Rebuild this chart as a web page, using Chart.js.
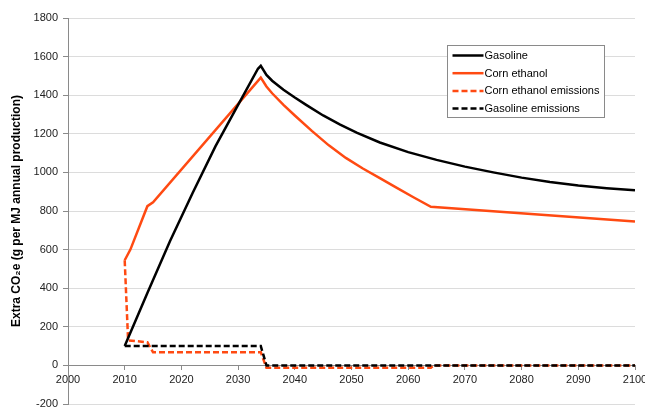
<!DOCTYPE html>
<html>
<head>
<meta charset="utf-8">
<script src="https://cdn.jsdelivr.net/npm/chart.js@4"></script>
<style>
  body { margin: 0; background: #fff; }
  #wrap { width: 645px; height: 408px; position: relative; }
</style>
</head>
<body>
<div id="wrap"><canvas id="co2Chart"></canvas></div>
<script>
// values
const gasolineYears = [2010, 2014, 2018, 2022, 2026, 2030, 2033.5, 2034, 2035, 2036, 2038, 2040, 2042, 2045, 2048, 2051, 2055, 2060, 2065, 2070, 2075, 2080, 2085, 2090, 2095, 2100];
const gasolineValues = [100, 375, 645, 895, 1135, 1350, 1537, 1552, 1505, 1475, 1428, 1388, 1350, 1295, 1248, 1205, 1155, 1105, 1065, 1030, 1000, 973, 950, 932, 918, 907];

const cornYears = [2010, 2011, 2014, 2015, 2034, 2035, 2036, 2038, 2040, 2043, 2046, 2049, 2052, 2055, 2058, 2061, 2064, 2100];
const cornValues = [545, 600, 825, 845, 1491, 1445, 1410, 1350, 1295, 1215, 1140, 1075, 1020, 970, 920, 870, 822, 745];

const cornEmYears = [2010, 2010.6, 2014, 2015, 2034, 2035, 2064, 2064.5, 2100];
const cornEmValues = [545, 130, 120, 68, 68, -12, -12, 0, 0];

const gasEmYears = [2010, 2034, 2035, 2100];
const gasEmValues = [100, 100, 0, 0];

const xTicks = [2000, 2010, 2020, 2030, 2040, 2050, 2060, 2070, 2080, 2090, 2100];
const yTicks = [-200, 0, 200, 400, 600, 800, 1000, 1200, 1400, 1600, 1800];

const ORANGE = "#ff4a12";
const FONT = "'Liberation Sans', Arial, sans-serif";

function toPoints(xs, ys) {
  return xs.map((x, i) => ({ x: x, y: ys[i] }));
}

// legend drawn as a boxed list inside the plot, like the original
const boxLegend = {
  id: "boxLegend",
  afterDraw(chart) {
    const ctx = chart.ctx;
    const area = chart.chartArea;
    const w = 157, h = 72;
    const left = Math.round(area.right - 31 - w) + 0.5;
    const top = Math.round(area.top + 27) + 0.5;
    ctx.save();
    ctx.fillStyle = "#fff";
    ctx.fillRect(left, top, w, h);
    ctx.strokeStyle = "#8a8a8a";
    ctx.lineWidth = 1;
    ctx.strokeRect(left, top, w, h);
    ctx.font = "11px " + FONT;
    ctx.textBaseline = "middle";
    ctx.fillStyle = "#000";
    chart.data.datasets.forEach((ds, i) => {
      const y = top + 10 + i * 17.7;
      ctx.beginPath();
      ctx.strokeStyle = ds.borderColor;
      ctx.lineWidth = 2.5;
      ctx.setLineDash(ds.borderDash || []);
      ctx.moveTo(left + 5, y);
      ctx.lineTo(left + 36, y);
      ctx.stroke();
      ctx.setLineDash([]);
      ctx.fillText(ds.label, left + 37, y + 0.5);
    });
    ctx.restore();
  },
};

const ctx = document.getElementById("co2Chart").getContext("2d");
const co2Chart = new Chart(ctx, {
  type: "line",
  data: {
    datasets: [
      {
        label: "Gasoline",
        data: toPoints(gasolineYears, gasolineValues),
        borderColor: "#000",
        borderWidth: 2.5,
        order: 2,
      },
      {
        label: "Corn ethanol",
        data: toPoints(cornYears, cornValues),
        borderColor: ORANGE,
        borderWidth: 2.5,
        order: 3,
      },
      {
        label: "Corn ethanol emissions",
        data: toPoints(cornEmYears, cornEmValues),
        borderColor: ORANGE,
        borderWidth: 2.5,
        borderDash: [6, 3],
        order: 4,
      },
      {
        label: "Gasoline emissions",
        data: toPoints(gasEmYears, gasEmValues),
        borderColor: "#000",
        borderWidth: 2.5,
        borderDash: [6, 3],
        order: 1,
      },
    ],
  },
  options: {
    responsive: true,
    maintainAspectRatio: false,
    animation: false,
    layout: { padding: { top: 18, right: 10, bottom: 4, left: 0 } },
    elements: { point: { radius: 0 }, line: { tension: 0 } },
    plugins: { legend: { display: false }, tooltip: { enabled: false } },
    scales: {
      x: {
        type: "linear",
        position: { y: 0 },
        min: 2000,
        max: 2100,
        afterBuildTicks: (scale) => {
          scale.ticks = xTicks.map((v) => ({ value: v }));
        },
        ticks: {
          color: "#222",
          font: { family: FONT, size: 11 },
          padding: 4,
          maxRotation: 0,
          callback: (v) => String(v),
        },
        grid: { drawOnChartArea: false, tickLength: 4, tickColor: "#8a8a8a" },
        border: { color: "#8a8a8a", width: 1 },
        afterFit: (scale) => {
          scale.paddingLeft = 0;
          scale.paddingRight = 0;
        },
      },
      y: {
        min: -200,
        max: 1800,
        afterBuildTicks: (scale) => {
          scale.ticks = yTicks.map((v) => ({ value: v }));
        },
        ticks: {
          color: "#222",
          font: { family: FONT, size: 11 },
          padding: 5,
          callback: (v) => String(v),
        },
        grid: { color: "#dcdcdc", tickLength: 5, tickColor: "#8a8a8a" },
        border: { color: "#8a8a8a", width: 1 },
        title: {
          display: true,
          text: "Extra CO\u2082e (g per MJ annual production)",
          color: "#000",
          font: { family: FONT, size: 12, weight: "bold" },
          padding: { top: 9, bottom: 0 },
        },
        afterFit: (scale) => {
          scale.width = 68;
          scale.paddingTop = 0;
          scale.paddingBottom = 0;
        },
      },
    },
  },
  plugins: [boxLegend],
});
</script>
</body>
</html>
